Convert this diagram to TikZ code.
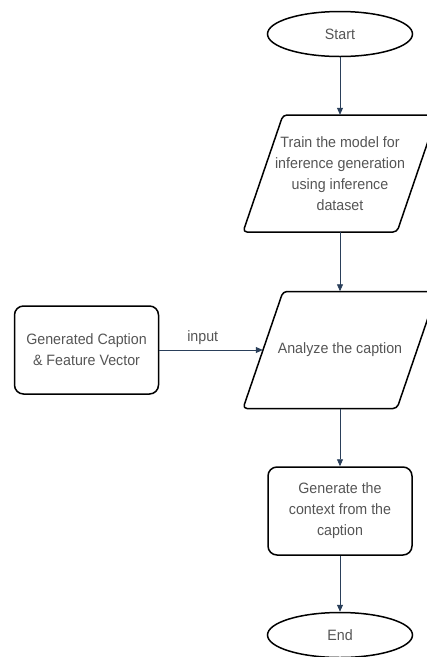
\documentclass[tikz,border=0pt]{standalone}
\usepackage{fontspec}
\setmainfont{Liberation Sans}[FakeStretch=0.95]
\usetikzlibrary{shapes.geometric,arrows.meta}
\definecolor{txt}{HTML}{555555}
\definecolor{arr}{HTML}{2A3F5A}
\begin{document}
\begin{tikzpicture}[x=1pt,y=-1pt,
  outline/.style={draw=black, line width=1.5pt},
  base/.style={text=txt, align=center, font=\fontsize{15}{21}\selectfont, inner sep=2pt},
  term/.style={base, outline, ellipse, minimum width=145pt, minimum height=45pt},
  para/.style={base, rectangle, minimum width=154pt, minimum height=117pt},
  proc/.style={base, outline, rectangle, rounded corners=9pt, minimum width=144pt, minimum height=88pt},
  flow/.style={draw=arr, line width=0.8pt, -{Triangle[width=6pt,length=7pt]}}
]
\useasboundingbox (0,0) rectangle (427,657);
\node[term] (start) at (340,34) {Start};
\node[para] (train) at (340,173.5) {Train the model for\\inference generation\\using inference\\dataset};
\node[para] (analyze) at (340,350) {Analyze the caption};
\foreach \n in {train,analyze}{
  \draw[outline, rounded corners=4pt]
    ([shift={(-97,58.5)}]\n.center) -- ([shift={(57,58.5)}]\n.center) --
    ([shift={(97,-58.5)}]\n.center) -- ([shift={(-57,-58.5)}]\n.center) -- cycle;
}
\node[proc] (feat) at (86.5,350) {Generated Caption\\\& Feature Vector};
\node[proc] (gen) at (340,511) {Generate the\\context from the\\caption};
\node[term] (end) at (340,635) {End};
\draw[flow] (start) -- (train);
\draw[flow] (train) -- (analyze);
\draw[flow] (feat.east) -- node[pos=0.42, above=3pt, base] {input} (analyze.west);
\draw[flow] (analyze) -- (gen);
\draw[flow] (gen) -- (end);
\end{tikzpicture}
\end{document}
